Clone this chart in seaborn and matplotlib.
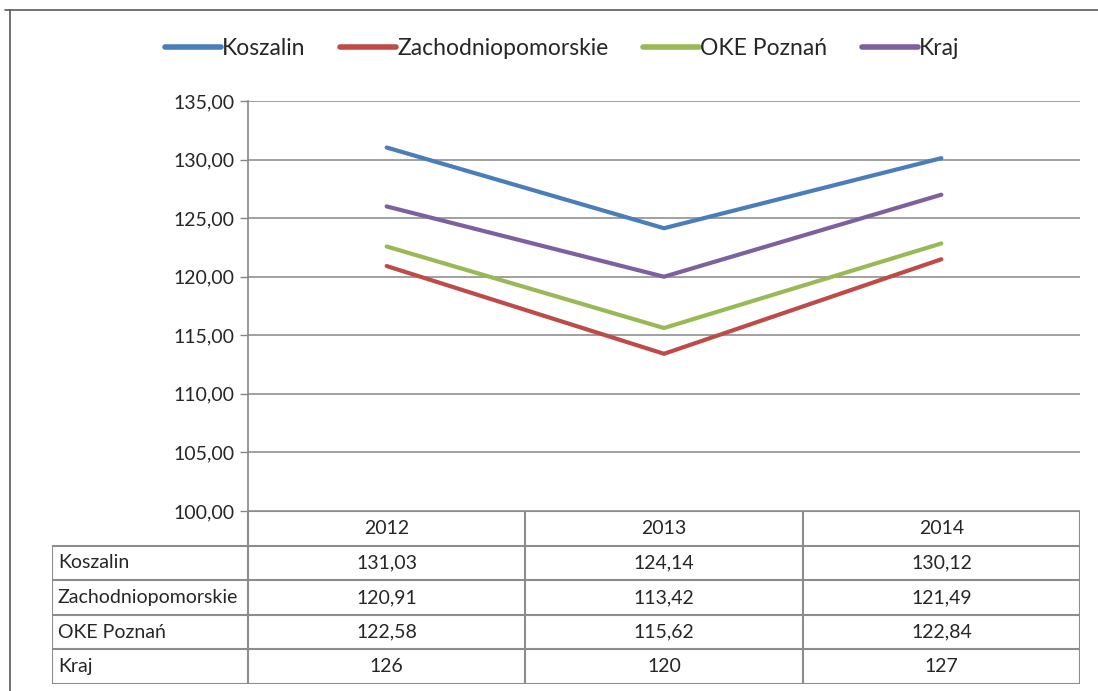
import numpy as np
import pandas as pd
import seaborn as sns
import matplotlib.pyplot as plt
from matplotlib.lines import Line2D

years = ['2012', '2013', '2014']
series = ['Koszalin', 'Zachodniopomorskie', 'OKE Poznań', 'Kraj']
koszalin = [131.03, 124.14, 130.12]
zachodniopomorskie = [120.91, 113.42, 121.49]
oke_poznan = [122.58, 115.62, 122.84]
kraj = [126, 120, 127]
colors = ['#4A7EBB', '#BE4B48', '#98B954', '#7D60A0']
y_ticks = [100, 105, 110, 115, 120, 125, 130, 135]

values = [koszalin, zachodniopomorskie, oke_poznan, kraj]
df = pd.DataFrame({
    'series': np.repeat(series, len(years)),
    'pos': np.tile(np.arange(len(years)), len(series)),
    'value': np.concatenate(values),
})

sns.set_style('white')
plt.rcParams['font.family'] = ['Lato', 'DejaVu Sans']

W, H = 1098, 691
fig = plt.figure(figsize=(W / 100, H / 100), dpi=100)

def box(x0, y0, x1, y1):
    # pixel box (top-left origin) -> figure fraction
    return [x0 / W, 1 - y1 / H, (x1 - x0) / W, (y1 - y0) / H]

fs = 14
grid_c = '#868686'
ax = fig.add_axes(box(248, 101, 1080, 511))
sns.lineplot(data=df, x='pos', y='value', hue='series', hue_order=series,
             palette=colors, linewidth=3.0, ax=ax)
ax.set_xlim(-0.5, len(years) - 0.5)
ax.set_ylim(y_ticks[0], y_ticks[-1])
ax.set_yticks(y_ticks)
ax.set_yticklabels([f'{t:.2f}'.replace('.', ',') for t in y_ticks], fontsize=fs)
ax.set_xticks([])
ax.set_xlabel('')
ax.set_ylabel('')
ax.yaxis.grid(True, color=grid_c, linewidth=1.1)
ax.tick_params(axis='y', left=True, length=6, width=1, color=grid_c, pad=4)
for s in ['top', 'right', 'bottom']:
    ax.spines[s].set_visible(False)
ax.spines['left'].set_color(grid_c)
ax.spines['left'].set_linewidth(1.2)

handles, labels = ax.get_legend_handles_labels()
for h in handles:
    h.set_linewidth(4)
ax.get_legend().remove()
fig.legend(handles, labels, loc='center', bbox_to_anchor=(0.512, 0.930), ncol=4,
           frameon=False, fontsize=16.5, handlelength=2.45, handletextpad=0.05,
           columnspacing=1.5)

# data table under the chart
tax = fig.add_axes(box(52, 511, 1080, 684))
tax.set_xlim(52, 1080)
tax.set_ylim(684, 511)
tax.axis('off')
col_x = [52, 248, 525, 803, 1080]
row_y = np.linspace(511, 684, len(series) + 2)
lc = '#8c8c8c'
tax.plot([248, 1080], [511, 511], color=lc, lw=1.5)
for y in row_y[1:]:
    tax.plot([52, 1080], [y, y], color=lc, lw=1.5)
for x in col_x:
    y_start = row_y[1] if x == 52 else 511
    tax.plot([x, x], [y_start, 684], color=lc, lw=1.5)

def fmt(v):
    return str(int(v)) if float(v).is_integer() else f'{v:.2f}'.replace('.', ',')

for j, yr in enumerate(years):
    cx = (col_x[j + 1] + col_x[j + 2]) / 2
    tax.text(cx, (row_y[0] + row_y[1]) / 2, yr, ha='center', va='center', fontsize=fs)
for i, name in enumerate(series):
    cy = (row_y[i + 1] + row_y[i + 2]) / 2
    tax.text(58, cy, name, ha='left', va='center', fontsize=fs)
    for j in range(len(years)):
        cx = (col_x[j + 1] + col_x[j + 2]) / 2
        tax.text(cx, cy, fmt(values[i][j]), ha='center', va='center', fontsize=fs)

# outer frame of the chart area
fig.add_artist(Line2D([5 / W, 1], [1 - 10 / H, 1 - 10 / H], color='#5a5a5a', lw=1.2))
fig.add_artist(Line2D([10 / W, 10 / W], [0, 1 - 10 / H], color='#5a5a5a', lw=1.2))

fig.savefig('out.png', dpi=100)
